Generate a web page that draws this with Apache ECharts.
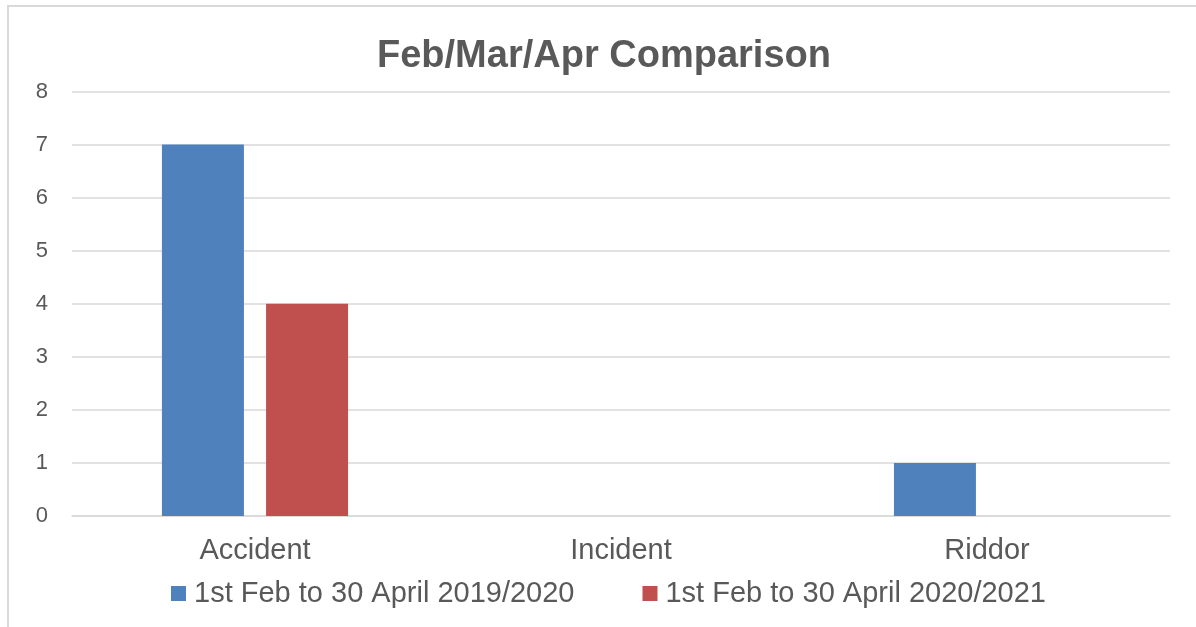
<!DOCTYPE html>
<html>
<head>
<meta charset="utf-8">
<script src="https://cdn.jsdelivr.net/npm/echarts@6/dist/echarts.min.js"></script>
<style>
  html, body { margin: 0; padding: 0; background: #fff; }
  #chart { width: 1196px; height: 627px; }
</style>
</head>
<body>
<div id="chart"></div>
<script>
var categories = ["Accident", "Incident", "Riddor"];
var seriesNames = ["1st Feb to 30 April 2019/2020", "1st Feb to 30 April 2020/2021"];
var values2019 = [7, 0, 1];
var values2020 = [4, 0, 0];

var grey = "#595959";

var chart = echarts.init(document.getElementById("chart"));
chart.setOption({
    animation: false,
    color: ["#4F81BD", "#C0504D"],
    title: {
        text: "Feb/Mar/Apr Comparison",
        left: 372,
        top: 33,
        textStyle: { fontFamily: "Liberation Sans", fontSize: 38, fontWeight: "bold", color: grey }
    },
    graphic: [{
        type: "rect",
        shape: { x: 8, y: 6, width: 1200, height: 640 },
        style: { fill: "none", stroke: "#d9d9d9", lineWidth: 2 },
        silent: true
    }],
    legend: {
        left: 171,
        top: 579,
        padding: 0,
        itemWidth: 15,
        itemHeight: 15,
        itemGap: 68,
        icon: "rect",
        textStyle: { fontFamily: "Liberation Sans", fontSize: 29, color: grey, padding: [0, 0, 0, 3] },
        data: seriesNames
    },
    grid: { left: 72, right: 26, top: 91.5, bottom: 111 },
    xAxis: {
        type: "category",
        data: categories,
        axisLine: { lineStyle: { color: "#d9d9d9", width: 1.5 } },
        axisTick: { show: false },
        axisLabel: { fontFamily: "Liberation Sans", fontSize: 29, color: grey, margin: 20 }
    },
    yAxis: {
        type: "value",
        min: 0,
        max: 8,
        interval: 1,
        axisLine: { show: false },
        axisTick: { show: false },
        splitLine: { lineStyle: { color: "#d9d9d9", width: 1.5 } },
        axisLabel: { fontFamily: "Liberation Sans", fontSize: 22, color: grey, margin: 24 }
    },
    series: [
        { name: seriesNames[0], type: "bar", data: values2019, barWidth: 82, barGap: "27%" },
        { name: seriesNames[1], type: "bar", data: values2020, barWidth: 82, barGap: "27%" }
    ]
});
</script>
</body>
</html>
